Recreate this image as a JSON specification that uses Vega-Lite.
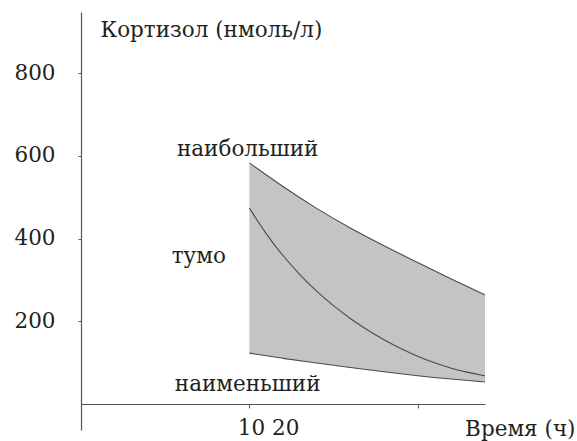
{
  "$schema": "https://vega.github.io/schema/vega-lite/v6.json",
  "width": 404,
  "height": 418,
  "autosize": {"type": "none"},
  "padding": {"left": 81, "top": 12, "right": 92, "bottom": 11},
  "background": "white",
  "config": {"view": {"stroke": null}, "font": "DejaVu Serif"},
  "datasets": {
    "band": [
      {"t": 10, "hi": 583, "lo": 123},
      {"t": 12, "hi": 525, "lo": 110},
      {"t": 14, "hi": 472, "lo": 99},
      {"t": 16, "hi": 425, "lo": 88},
      {"t": 18, "hi": 382, "lo": 78},
      {"t": 20, "hi": 342, "lo": 68},
      {"t": 22, "hi": 302, "lo": 60},
      {"t": 24, "hi": 264, "lo": 53}
    ],
    "mid": [
      {"t": 10, "v": 474}, {"t": 11, "v": 410}, {"t": 12, "v": 358},
      {"t": 13, "v": 312}, {"t": 14, "v": 272}, {"t": 15, "v": 237},
      {"t": 16, "v": 206}, {"t": 17, "v": 179}, {"t": 18, "v": 155},
      {"t": 19, "v": 134}, {"t": 20, "v": 115}, {"t": 21, "v": 99},
      {"t": 22, "v": 86}, {"t": 23, "v": 76}, {"t": 24, "v": 68}
    ],
    "labels": [
      {"t": 9.9, "v": 614, "text": "наибольший"},
      {"t": 7.0, "v": 355, "text": "тумо"},
      {"t": 9.9, "v": 46, "text": "наименьший"}
    ]
  },
  "layer": [
    {
      "data": {"name": "band"},
      "mark": {"type": "area", "color": "#c4c4c4", "interpolate": "basis"},
      "encoding": {
        "x": {"field": "t", "type": "quantitative",
          "scale": {"domain": [0, 24], "nice": false, "zero": false},
          "axis": {
            "values": [10, 20], "offset": -26, "domainColor": "#555", "domainWidth": 1.2,
            "tickColor": "#555", "tickSize": 4, "tickOffset": 0,
            "labelExpr": "datum.value == 10 ? '10 20' : ''",
            "labelAlign": "left", "labelOffset": -12, "labelPadding": 9,
            "labelFont": "DejaVu Serif", "labelFontSize": 21.5, "labelColor": "#231f20",
            "title": "Время (ч)", "titleFont": "DejaVu Serif", "titleFontSize": 21.5,
            "titleFontWeight": "normal", "titleColor": "#231f20",
            "titleAnchor": "end", "titleAlign": "right", "titleX": 494, "titleY": 31,
            "titleBaseline": "alphabetic", "grid": false
          }
        },
        "y": {"field": "hi", "type": "quantitative",
          "scale": {"domain": [-63, 948], "nice": false, "zero": false},
          "axis": {
            "values": [200, 400, 600, 800], "domainColor": "#555", "domainWidth": 1.2,
            "tickColor": "#555", "tickSize": 3,
            "labelPadding": 23, "labelFont": "DejaVu Serif", "labelFontSize": 21.5,
            "labelColor": "#231f20", "grid": false,
            "title": "Кортизол (нмоль/л)", "titleFont": "DejaVu Serif", "titleFontSize": 21.5,
            "titleFontWeight": "normal", "titleColor": "#231f20", "titleAngle": 0,
            "titleX": 19, "titleY": 18, "titleAlign": "left", "titleBaseline": "middle"
          }
        },
        "y2": {"field": "lo"}
      }
    },
    {
      "data": {"name": "band"},
      "mark": {"type": "line", "color": "#4a4a4a", "strokeWidth": 1.1, "interpolate": "basis"},
      "encoding": {"x": {"field": "t", "type": "quantitative"}, "y": {"field": "hi", "type": "quantitative"}}
    },
    {
      "data": {"name": "band"},
      "mark": {"type": "line", "color": "#4a4a4a", "strokeWidth": 1.1, "interpolate": "basis"},
      "encoding": {"x": {"field": "t", "type": "quantitative"}, "y": {"field": "lo", "type": "quantitative"}}
    },
    {
      "data": {"name": "mid"},
      "mark": {"type": "line", "color": "#4a4a4a", "strokeWidth": 1.1, "interpolate": "basis"},
      "encoding": {"x": {"field": "t", "type": "quantitative"}, "y": {"field": "v", "type": "quantitative"}}
    },
    {
      "data": {"name": "labels"},
      "mark": {"type": "text", "font": "DejaVu Serif", "fontSize": 21.5, "color": "#231f20", "align": "center", "baseline": "middle"},
      "encoding": {
        "x": {"field": "t", "type": "quantitative"},
        "y": {"field": "v", "type": "quantitative"},
        "text": {"field": "text"}
      }
    }
  ]
}
